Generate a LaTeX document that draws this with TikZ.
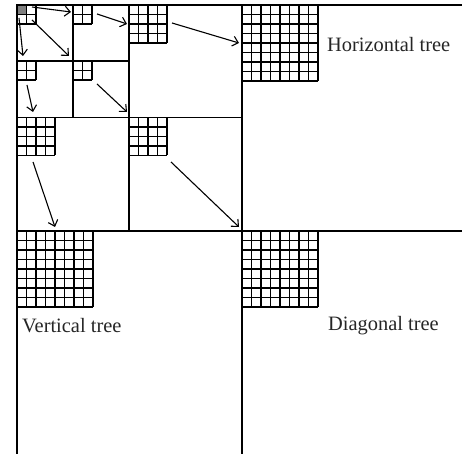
\documentclass[tikz,border=0pt]{standalone}
\usepackage{fontspec}
\setmainfont{Liberation Serif}
\usetikzlibrary{arrows.meta}
\newcommand{\qgrid}[4]{%
  \node[gridbox, minimum width=#4*9.5bp, minimum height=#4*9.5bp] (#1) at (#2,#3) {};
  \foreach \i in {0,...,#4} {
    \draw[gridline] (#2+\i*9.5,#3) -- ++(0,#4*9.5);
    \draw[gridline] (#2,#3+\i*9.5) -- ++(#4*9.5,0);
  }%
}
\begin{document}
\begin{tikzpicture}[x=1bp,y=-1bp,
  frame/.style={line width=1.9bp},
  gridline/.style={line width=1.6bp},
  gridbox/.style={inner sep=0pt, outer sep=0pt, draw=none, anchor=north west},
  flow/.style={line width=1.1bp, -{Straight Barb[length=5.5bp,width=10bp]}},
  lbl/.style={font=\fontsize{20.5}{24}\selectfont, anchor=west, inner sep=0pt, text=black!85}]
\useasboundingbox (0,0) rectangle (462,454);
% frame lines
\draw[frame] (17,454) -- (17,5) -- (462,5);
\draw[frame] (242,5) -- (242,454);
\draw[frame] (17,231) -- (462,231);
\draw[frame] (129,5) -- (129,231);
\draw[frame] (17,117.5) -- (242,117.5);
\draw[frame] (73,5) -- (73,117.5);
\draw[frame] (17,61) -- (129,61);
% grids
\fill[black!50] (17,5) rectangle ++(9.5,9.5);
\qgrid{g0}{17}{5}{2}
\qgrid{g1}{73}{5}{2}
\qgrid{g2}{17}{61}{2}
\qgrid{g3}{73}{61}{2}
\qgrid{g4}{129}{5}{4}
\qgrid{g5}{17}{117.5}{4}
\qgrid{g6}{129}{117.5}{4}
\qgrid{gH}{242}{5}{8}
\qgrid{gV}{17}{231}{8}
\qgrid{gD}{242}{231}{8}
% arrow end points
\coordinate (a1s) at (32,7);   \coordinate (a1e) at (71,12);
\coordinate (a2s) at (19,18);  \coordinate (a2e) at (23,56);
\coordinate (a3s) at (32,20);  \coordinate (a3e) at (69,56);
\coordinate (a4s) at (97,14);  \coordinate (a4e) at (127,24);
\coordinate (a5s) at (27,85);  \coordinate (a5e) at (33,112);
\coordinate (a6s) at (97,84);  \coordinate (a6e) at (127,112);
\coordinate (a7s) at (172,23); \coordinate (a7e) at (239,43);
\coordinate (a8s) at (33,162); \coordinate (a8e) at (55,227);
\coordinate (a9s) at (171,162);\coordinate (a9e) at (239,227);
\foreach \k in {1,...,9} { \draw[flow] (a\k s) -- (a\k e); }
% labels
\node[lbl] (ht) at (327,45) {Horizontal tree};
\node[lbl] (vt) at (22,326) {Vertical tree};
\node[lbl] (dt) at (328,326) {Diagonal tree};
\end{tikzpicture}
\end{document}
